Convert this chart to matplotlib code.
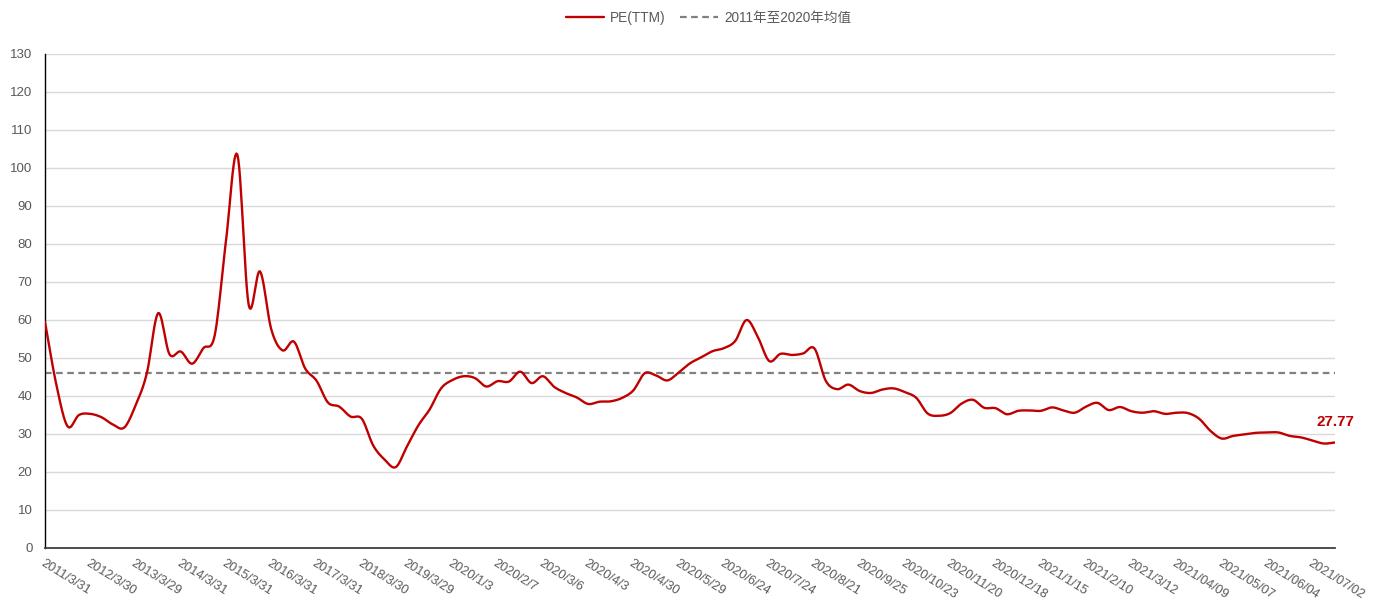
import numpy as np
import matplotlib
matplotlib.use("Agg")
import matplotlib.pyplot as plt

plt.rcParams['font.family'] = ['Liberation Sans', 'Noto Sans CJK SC', 'DejaVu Sans']

# ---- data ----
tick_labels = ["2011/3/31", "2012/3/30", "2013/3/29", "2014/3/31", "2015/3/31", "2016/3/31",
               "2017/3/31", "2018/3/30", "2019/3/29", "2020/1/3", "2020/2/7", "2020/3/6",
               "2020/4/3", "2020/4/30", "2020/5/29", "2020/6/24", "2020/7/24", "2020/8/21",
               "2020/9/25", "2020/10/23", "2020/11/20", "2020/12/18", "2021/1/15", "2021/2/10",
               "2021/3/12", "2021/04/09", "2021/05/07", "2021/06/04", "2021/07/02"]
points_per_label = 4

pe_ttm = [59.5, 43.0, 32.0, 35.0, 35.3, 34.4, 32.5, 31.7, 37.5, 46.0,
          61.8, 51.0, 51.7, 48.5, 52.6, 56.0, 81.0, 103.5, 64.0, 72.8,
          57.5, 52.0, 54.3, 47.2, 44.0, 38.3, 37.2, 34.6, 34.0, 27.0,
          23.3, 21.3, 26.8, 32.3, 36.5, 42.0, 44.2, 45.2, 44.7, 42.5,
          43.9, 43.8, 46.4, 43.4, 45.2, 42.4, 40.8, 39.6, 37.9, 38.5,
          38.6, 39.5, 41.5, 46.0, 45.4, 44.1, 46.2, 48.6, 50.2, 51.8,
          52.6, 54.5, 60.0, 55.5, 49.2, 51.1, 50.8, 51.2, 52.5, 44.0,
          41.8, 43.0, 41.3, 40.8, 41.7, 42.0, 41.0, 39.5, 35.4, 34.8,
          35.5, 38.0, 39.0, 36.9, 36.8, 35.2, 36.1, 36.2, 36.1, 37.0,
          36.2, 35.6, 37.2, 38.2, 36.3, 37.1, 36.0, 35.6, 36.0, 35.3,
          35.6, 35.5, 34.0, 30.8, 28.8, 29.5, 29.9, 30.3, 30.4, 30.4,
          29.5, 29.1, 28.3, 27.5, 27.77]
mean_2011_2020 = 46.1
last_label = "27.77"

series_name = "PE(TTM)"
mean_name = "2011年至2020年均值"


def smooth(y, n=12):
    """Catmull-Rom spline through equally spaced points (drawing only)."""
    y = np.asarray(y, dtype=float)
    p = np.concatenate([[2 * y[0] - y[1]], y, [2 * y[-1] - y[-2]]])
    xs, ys = [], []
    t = np.linspace(0, 1, n, endpoint=False)
    for i in range(1, len(p) - 2):
        p0, p1, p2, p3 = p[i - 1], p[i], p[i + 1], p[i + 2]
        seg = 0.5 * ((2 * p1) + (-p0 + p2) * t + (2 * p0 - 5 * p1 + 4 * p2 - p3) * t ** 2
                     + (-p0 + 3 * p1 - 3 * p2 + p3) * t ** 3)
        xs.append(i - 1 + t)
        ys.append(seg)
    xs.append([len(y) - 1])
    ys.append([y[-1]])
    return np.concatenate(xs), np.concatenate(ys)


fig = plt.figure(figsize=(13.84, 6.05), dpi=100)
ax = fig.add_axes([45 / 1384, 1 - 548 / 605, 1290 / 1384, 494 / 605])

x_s, y_s = smooth(pe_ttm)
ax.plot(x_s, y_s, color="#C00000", lw=1.7, label=series_name, zorder=3, solid_capstyle="round")
ax.axhline(mean_2011_2020, color="#808080", lw=1.6, ls=(0, (3, 2)), label=mean_name, zorder=2)

n = len(pe_ttm)
ax.set_xlim(0, n - 1)
ax.set_ylim(0, 130)
ax.set_yticks(np.arange(0, 131, 10))
ax.yaxis.grid(True, color="#D9D9D9", lw=1)
ax.set_axisbelow(True)

tick_pos = np.arange(0, n, points_per_label)[:len(tick_labels)]
ax.set_xticks(tick_pos)
ax.set_xticklabels(tick_labels, rotation=-32, ha="left", va="top", rotation_mode="anchor")
ax.tick_params(axis="both", length=0, colors="#595959", labelsize=9.5)
ax.tick_params(axis="x", pad=7, labelsize=9.2)
ax.tick_params(axis="y", pad=9)

for s in ["top", "right"]:
    ax.spines[s].set_visible(False)
ax.spines["left"].set_color("#000000")
ax.spines["bottom"].set_color("#404040")
ax.spines["left"].set_linewidth(1.0)
ax.spines["bottom"].set_linewidth(1.3)

ax.annotate(last_label, xy=(n - 1, pe_ttm[-1]), xytext=(0, 15), textcoords="offset points",
            ha="center", va="center", color="#C00000", fontsize=11, fontweight="bold")

leg = fig.legend(loc="center", bbox_to_anchor=(0.512, 1 - 18 / 605), ncol=2, frameon=False,
                 fontsize=9.8, handlelength=2.8, columnspacing=1.1, handletextpad=0.4)
for t in leg.get_texts():
    t.set_color("#595959")
    t.set_family(['Liberation Sans', 'Noto Sans CJK SC', 'DejaVu Sans'])

fig.savefig("out.png", dpi=100)
